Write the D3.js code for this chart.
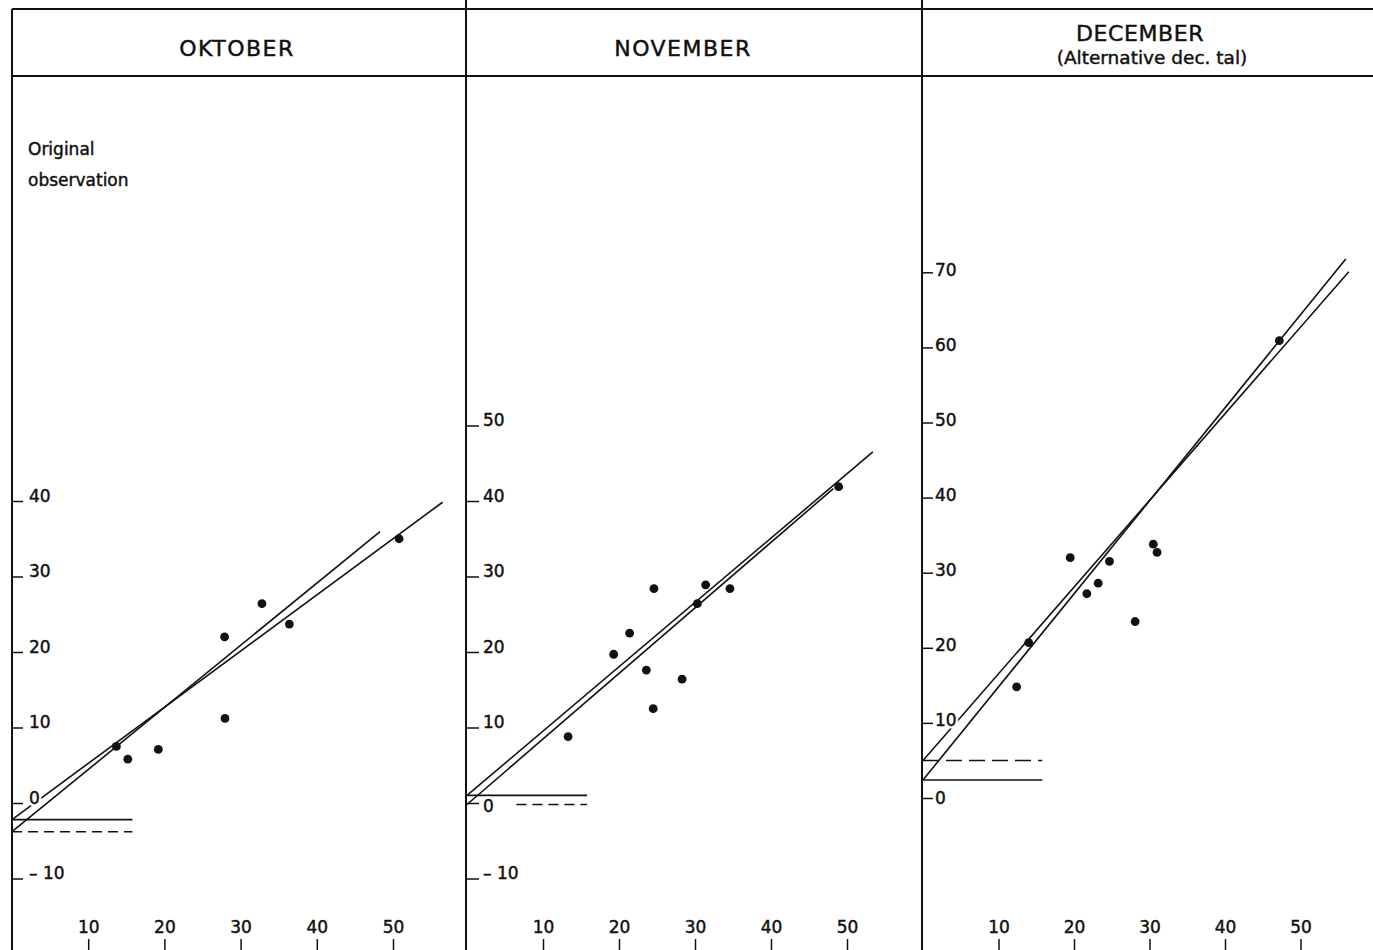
<!DOCTYPE html>
<html>
<head>
<meta charset="utf-8">
<script src="https://cdn.jsdelivr.net/npm/d3@7"></script>
<style>
body{margin:0;background:#fff}
svg{display:block;background:#fff}
text{font-family:"DejaVu Sans",sans-serif;fill:#111;stroke:#111;stroke-width:0.45px}
</style>
</head>
<body>
<script>
// points
const oktX = [13.7, 15.2, 19.2, 27.9, 27.95, 32.8, 36.4, 50.8]
const oktY = [7.5, 5.8, 7.1, 22.0, 11.2, 26.4, 23.7, 35.0]
const novX = [13.3, 19.3, 21.4, 24.6, 23.6, 24.5, 28.3, 30.3, 31.4, 34.6, 48.9]
const novY = [8.8, 19.7, 22.5, 28.4, 17.6, 12.5, 16.4, 26.4, 28.9, 28.4, 41.9]
const decX = [12.4, 14.0, 19.5, 21.7, 23.2, 24.7, 28.1, 30.5, 31.0, 47.2]
const decY = [14.8, 20.7, 32.0, 27.2, 28.6, 31.5, 23.5, 33.8, 32.7, 60.9]

// fitted lines: [intercept, slope, last x]
const oktLines = [[-2.2, 0.744, 56.5], [-3.8, 0.823, 48.3]]
const novLines = [[1.0, 0.852, 53.4], [-0.2, 0.868, 48.2]]
const decLines = [[5.0, 1.154, 56.4], [2.4, 1.239, 56.0]]

// short marks at the intercepts: [solid, dashed]
const oktLevels = [-2.2, -3.8]
const novLevels = [1.0, -0.2]
const decLevels = [2.4, 5.0]
const levelEnd = 15.8

// tick labels
const xTicks = [10, 20, 30, 40, 50]
const oktTicks = [-10, 0, 10, 20, 30, 40]
const novTicks = [-10, 0, 10, 20, 30, 40, 50]
const decTicks = [0, 10, 20, 30, 40, 50, 60, 70]

const width = 1373
const height = 950

// layout of each panel (axis position, px per unit, label placement)
const panels = [
  {xs: oktX, ys: oktY, lines: oktLines, levels: oktLevels, ticks: oktTicks,
   ax: 12, x0: 12, kx: 7.62, y0: 803, ky: 7.55, tick: 11, pad: 6, labDy: 0, zeroDy: 0, dash: '10,6', dashFrom: 0},
  {xs: novX, ys: novY, lines: novLines, levels: novLevels, ticks: novTicks,
   ax: 466, x0: 467, kx: 7.6, y0: 803, ky: 7.55, tick: 13, pad: 4, labDy: 0, zeroDy: 8, dash: '10,6', dashFrom: 6.5},
  {xs: decX, ys: decY, lines: decLines, levels: decLevels, ticks: decTicks,
   ax: 922, x0: 923, kx: 7.55, y0: 798, ky: 7.51, tick: 11, pad: 2, labDy: 3, zeroDy: 5, dash: '16,7', dashFrom: 0}
]

const svg = d3.select('body').append('svg')
  .attr('width', width)
  .attr('height', height)

// header box
const frame = (x1, y1, x2, y2) => svg.append('line')
  .attr('x1', x1).attr('y1', y1).attr('x2', x2).attr('y2', y2)
  .attr('stroke', '#111').attr('stroke-width', 2)

frame(12, 9, width, 9)
frame(12, 76, width, 76)

const drawPanel = (p, i) => {
  const x = d3.scaleLinear().domain([0, 50]).range([p.x0, p.x0 + 50 * p.kx])
  const y = d3.scaleLinear().domain([0, 10]).range([p.y0, p.y0 - 10 * p.ky])

  // axis line running the full height (also the header divider)
  frame(p.ax, i === 0 ? 9 : 0, p.ax, height)

  // horizontal marks at the intercepts
  svg.append('line')
    .attr('x1', x(0)).attr('x2', x(levelEnd))
    .attr('y1', y(p.levels[0])).attr('y2', y(p.levels[0]))
    .attr('stroke', '#111').attr('stroke-width', 1.7)
  svg.append('line')
    .attr('x1', x(p.dashFrom)).attr('x2', x(levelEnd))
    .attr('y1', y(p.levels[1])).attr('y2', y(p.levels[1]))
    .attr('stroke', '#111').attr('stroke-width', 1.5)
    .attr('stroke-dasharray', p.dash)

  // the two fitted lines
  const line = d3.line().x(d => x(d[0])).y(d => y(d[1]))
  p.lines.forEach(l => {
    svg.append('path')
      .attr('d', line([[0, l[0]], [l[2], l[0] + l[1] * l[2]]]))
      .attr('fill', 'none')
      .attr('stroke', '#111')
      .attr('stroke-width', 1.6)
  })

  // y axis, labels sit to the right of the ticks
  const yAxis = d3.axisRight(y)
    .tickValues(p.ticks)
    .tickSize(p.tick)
    .tickPadding(p.pad)
    .tickFormat(d => d < 0 ? '\u2013 ' + (-d) : d)

  const gy = svg.append('g')
    .attr('transform', 'translate(' + p.ax + ',0)')
    .call(yAxis)
    .attr('font-size', 17)
    .attr('font-family', null)
  gy.select('.domain').remove()
  gy.selectAll('line').attr('stroke', '#111').attr('stroke-width', 1.5)
  gy.selectAll('text')
    .attr('dy', d => d === 0 ? p.zeroDy : p.labDy)
  // white copy behind each label so the lines break around the numbers
  gy.selectAll('.tick').each(function () {
    const t = d3.select(this).select('text').node()
    d3.select(this).insert(() => t.cloneNode(true), 'text')
      .style('stroke', '#fff')
      .style('stroke-width', '5px')
      .style('fill', '#fff')
  })

  // x ticks along the bottom edge, labels above
  const xAxis = d3.axisTop(x)
    .tickValues(xTicks)
    .tickSize(11)
    .tickPadding(6)

  const gx = svg.append('g')
    .attr('transform', 'translate(0,' + height + ')')
    .call(xAxis)
    .attr('font-size', 17)
    .attr('font-family', null)
  gx.select('.domain').remove()
  gx.selectAll('line').attr('stroke', '#111').attr('stroke-width', 1.5)

  // observations
  svg.append('g').selectAll('circle')
    .data(p.xs.map((v, j) => [v, p.ys[j]]))
    .enter()
    .append('circle')
    .attr('cx', d => x(d[0]))
    .attr('cy', d => y(d[1]))
    .attr('r', 4.4)
    .attr('fill', '#111')
}

panels.forEach(drawPanel)

// headings
const heading = (txt, cx, by, size, spacing) => svg.append('text')
  .attr('x', cx).attr('y', by)
  .attr('text-anchor', 'middle')
  .attr('font-size', size)
  .attr('letter-spacing', spacing)
  .text(txt)

heading('OKTOBER', 237, 56, 22, 1.5)
heading('NOVEMBER', 683, 56, 22, 1.5)
heading('DECEMBER', 1140, 41, 22, 0.6)
heading('(Alternative dec. tal)', 1152, 64, 18.5, 0)

svg.append('text').attr('x', 28).attr('y', 155).attr('font-size', 17).text('Original')
svg.append('text').attr('x', 28).attr('y', 186).attr('font-size', 17).text('observation')
</script>
</body>
</html>
